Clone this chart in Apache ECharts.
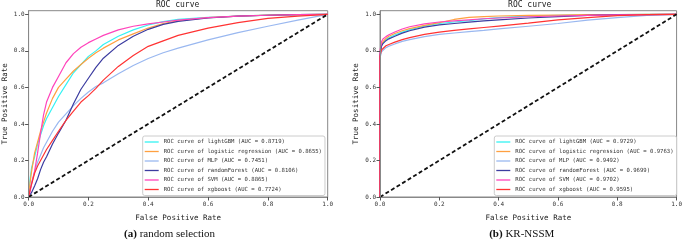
<!DOCTYPE html>
<html>
<head>
<meta charset="utf-8">
<script src="https://cdn.jsdelivr.net/npm/echarts@6/dist/echarts.min.js"></script>
<style>
  html, body { margin: 0; padding: 0; background: #fff; }
  #chart { width: 685px; height: 241px; }
</style>
</head>
<body>
<div id="chart"></div>
<script>
// models, in plotting order
const models = ['lightGBM', 'logistic regression', 'MLP', 'randomForest', 'SVM', 'xgboost']
const colors = ['#33f3f3', '#ffa040', '#9ab8f0', '#3c3ca0', '#ff44bb', '#ff3333']

// (a) random selection
const aucA = ['0.8719', '0.8655', '0.7451', '0.8106', '0.8865', '0.7724']
const fprA = [0, 0.005, 0.01, 0.02, 0.03, 0.04, 0.05, 0.06, 0.08, 0.1, 0.125, 0.15, 0.175, 0.2, 0.225, 0.25, 0.3, 0.35, 0.4, 0.45, 0.5, 0.6, 0.7, 0.8, 0.9, 1.0]
const tprA_lightGBM = [0, 0.10, 0.16, 0.22, 0.29, 0.34, 0.39, 0.43, 0.49, 0.55, 0.615, 0.68, 0.725, 0.77, 0.80, 0.835, 0.88, 0.915, 0.942, 0.96, 0.972, 0.984, 0.991, 0.996, 0.998, 1]
const tprA_logistic = [0, 0.08, 0.14, 0.24, 0.30, 0.36, 0.41, 0.46, 0.54, 0.60, 0.645, 0.69, 0.725, 0.76, 0.79, 0.815, 0.86, 0.893, 0.925, 0.95, 0.965, 0.982, 0.99, 0.996, 0.998, 1]
const tprA_MLP = [0, 0.04, 0.08, 0.14, 0.19, 0.23, 0.27, 0.30, 0.36, 0.41, 0.455, 0.50, 0.54, 0.575, 0.605, 0.625, 0.675, 0.72, 0.758, 0.79, 0.815, 0.86, 0.90, 0.935, 0.968, 1]
const tprA_randomForest = [0, 0.01, 0.025, 0.06, 0.10, 0.15, 0.19, 0.22, 0.29, 0.35, 0.42, 0.51, 0.59, 0.65, 0.71, 0.76, 0.83, 0.88, 0.918, 0.945, 0.962, 0.98, 0.99, 0.995, 0.998, 1]
const tprA_SVM = [0, 0.03, 0.07, 0.14, 0.24, 0.35, 0.45, 0.52, 0.60, 0.66, 0.735, 0.785, 0.82, 0.845, 0.865, 0.885, 0.915, 0.935, 0.948, 0.958, 0.968, 0.982, 0.99, 0.995, 0.998, 1]
const tprA_xgboost = [0, 0.04, 0.07, 0.13, 0.17, 0.20, 0.23, 0.26, 0.31, 0.36, 0.42, 0.47, 0.52, 0.555, 0.595, 0.64, 0.715, 0.775, 0.825, 0.855, 0.885, 0.925, 0.955, 0.978, 0.99, 1]

// (b) KR-NSSM
const aucB = ['0.9729', '0.9763', '0.9492', '0.9699', '0.9702', '0.9595']
const fprB = [0, 0, 0.005, 0.01, 0.02, 0.03, 0.05, 0.075, 0.1, 0.15, 0.2, 0.25, 0.3, 0.35, 0.4, 0.5, 0.6, 0.7, 0.8, 0.9, 1]
const tprB_lightGBM = [0, 0.785, 0.83, 0.845, 0.862, 0.872, 0.887, 0.903, 0.915, 0.937, 0.95, 0.958, 0.966, 0.975, 0.982, 0.99, 0.995, 0.997, 0.999, 1, 1]
const tprB_logistic = [0, 0.79, 0.835, 0.85, 0.868, 0.88, 0.895, 0.91, 0.922, 0.94, 0.955, 0.972, 0.983, 0.988, 0.991, 0.994, 0.996, 0.998, 0.999, 1, 1]
const tprB_MLP = [0, 0.76, 0.795, 0.805, 0.818, 0.826, 0.838, 0.852, 0.862, 0.878, 0.89, 0.898, 0.905, 0.912, 0.92, 0.935, 0.95, 0.968, 0.982, 0.994, 1]
const tprB_randomForest = [0, 0.78, 0.825, 0.84, 0.856, 0.866, 0.88, 0.897, 0.91, 0.93, 0.942, 0.95, 0.957, 0.964, 0.97, 0.98, 0.988, 0.994, 0.998, 0.999, 1]
const tprB_SVM = [0, 0.80, 0.85, 0.865, 0.878, 0.888, 0.903, 0.92, 0.932, 0.948, 0.958, 0.964, 0.97, 0.976, 0.98, 0.987, 0.991, 0.994, 0.997, 0.999, 1]
const tprB_xgboost = [0, 0.77, 0.805, 0.815, 0.828, 0.835, 0.848, 0.862, 0.873, 0.89, 0.903, 0.912, 0.92, 0.928, 0.936, 0.952, 0.97, 0.982, 0.993, 0.998, 1]

const tprA = [tprA_lightGBM, tprA_logistic, tprA_MLP, tprA_randomForest, tprA_SVM, tprA_xgboost]
const tprB = [tprB_lightGBM, tprB_logistic, tprB_MLP, tprB_randomForest, tprB_SVM, tprB_xgboost]
const tickValues = [0, 0.2, 0.4, 0.6, 0.8, 1.0]
const diagonal = [[0, 0], [1, 1]]

const mono = 'DejaVu Sans Mono'
const panels = [
  { left: 27.5, width: 300.2, legendLeft: 142.7, title: 'ROC curve', tag: '(a)', caption: ' random selection', fpr: fprA, tpr: tprA, auc: aucA },
  { left: 380, width: 299.5, legendLeft: 494.3, title: 'ROC curve', tag: '(b)', caption: ' KR-NSSM', fpr: fprB, tpr: tprB, auc: aucB },
]

const chart = echarts.init(document.getElementById('chart'), null, { renderer: 'canvas' })

const option = {
  backgroundColor: '#fff',
  animation: false,
  title: [],
  grid: [],
  xAxis: [],
  yAxis: [],
  legend: [],
  series: [],
}

panels.forEach((p, i) => {
  const center = p.left + p.width / 2
  option.title.push({
    text: p.title,
    left: center,
    top: 0,
    padding: 0,
    textAlign: 'center',
    textStyle: { fontFamily: mono, fontSize: 8, fontWeight: 'normal', color: '#222', lineHeight: 9 },
  })
  option.title.push({
    text: '{b|' + p.tag + '}{n|' + p.caption + '}',
    left: center - 8,
    top: 228,
    padding: 0,
    textAlign: 'center',
    textStyle: {
      fontWeight: 'normal',
      rich: {
        b: { fontFamily: 'Liberation Serif', fontSize: 11, fontWeight: 'bold', color: '#111', lineHeight: 12 },
        n: { fontFamily: 'Liberation Serif', fontSize: 11, fontWeight: 'normal', color: '#111', lineHeight: 12 },
      },
    },
  })
  option.grid.push({
    left: p.left,
    top: 10.7,
    width: p.width,
    height: 186.3,
    show: true,
    borderColor: '#888',
    borderWidth: 1,
    backgroundColor: 'transparent',
  })
  option.xAxis.push({
    gridIndex: i,
    type: 'value',
    z: 5,
    min: 0,
    max: 1,
    interval: 0.2,
    name: 'False Positive Rate',
    nameLocation: 'middle',
    nameGap: 17,
    nameTextStyle: { fontFamily: mono, fontSize: 7.5, color: '#222' },
    axisLine: { show: true, onZero: false, lineStyle: { color: '#888', width: 1 } },
    axisTick: { show: true, length: 3.5, lineStyle: { color: '#555' } },
    axisLabel: { fontFamily: mono, fontSize: 6, color: '#333', margin: 4, formatter: (v) => v.toFixed(1) },
    splitLine: { show: false },
  })
  option.yAxis.push({
    gridIndex: i,
    type: 'value',
    z: 5,
    min: 0,
    max: 1.02,
    name: 'True Positive Rate',
    nameLocation: 'middle',
    nameGap: 19.6,
    nameTextStyle: { fontFamily: mono, fontSize: 7.5, color: '#222' },
    axisLine: { show: true, onZero: false, lineStyle: { color: '#888', width: 1 } },
    axisTick: { show: true, length: 3.5, customValues: tickValues, lineStyle: { color: '#555' } },
    axisLabel: { fontFamily: mono, fontSize: 6, color: '#333', margin: 4, customValues: tickValues, formatter: (v) => v.toFixed(1) },
    splitLine: { show: false },
  })

  const names = models.map((m, k) => 'ROC curve of ' + m + ' (AUC = ' + p.auc[k] + ')')
  option.legend.push({
    data: names,
    orient: 'vertical',
    left: p.legendLeft,
    top: 136,
    padding: [2, 3, 2, 2],
    icon: 'rect',
    itemWidth: 14,
    itemHeight: 1.3,
    itemGap: 1.5,
    borderColor: '#ccc',
    borderWidth: 1,
    borderRadius: 2,
    backgroundColor: 'rgba(255,255,255,0.8)',
    textStyle: { fontFamily: mono, fontSize: 5.6, color: '#333', lineHeight: 8 },
  })

  models.forEach((m, k) => {
    option.series.push({
      name: names[k],
      type: 'line',
      xAxisIndex: i,
      yAxisIndex: i,
      symbol: 'none',
      color: colors[k],
      lineStyle: { width: 1.2, color: colors[k] },
      data: p.fpr.map((x, j) => [x, p.tpr[k][j]]),
    })
  })

  option.series.push({
    type: 'line',
    xAxisIndex: i,
    yAxisIndex: i,
    symbol: 'none',
    silent: true,
    lineStyle: { width: 1.8, color: '#111', type: [4, 2.5] },
    data: diagonal,
  })
})

chart.setOption(option)
</script>
</body>
</html>
